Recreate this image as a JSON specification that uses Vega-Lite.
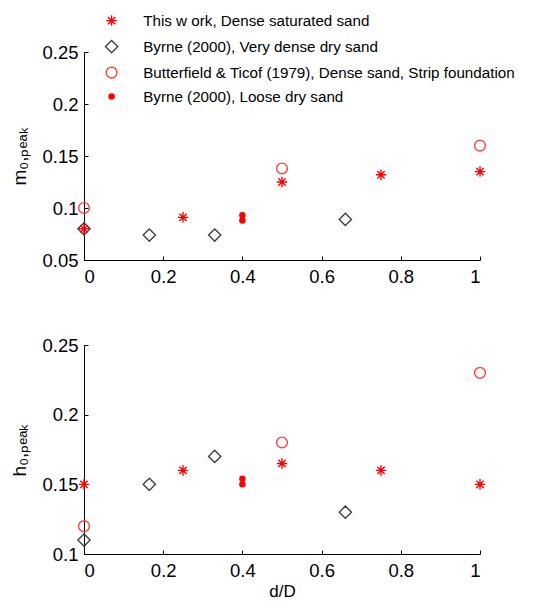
{
  "$schema": "https://vega.github.io/schema/vega-lite/v6.json",
  "background": "white",
  "padding": {"left": 10, "top": 13, "right": 5, "bottom": 0},
  "config": {
    "view": {"stroke": null},
    "font": "Liberation Sans",
    "axis": {
      "grid": false,
      "domainColor": "#000000",
      "tickColor": "#000000",
      "tickSize": -4,
      "labelColor": "#000000",
      "titleColor": "#000000",
      "labelFontSize": 18.5,
      "titleFontSize": 17,
      "titleFontWeight": "normal",
      "labelFont": "Liberation Sans",
      "titleFont": "Liberation Sans"
    }
  },
  "data": {
    "values": [
      {"series": "Byrne (2000), Very dense dry sand", "dD": 0, "m": 0.08, "h": 0.11},
      {"series": "Byrne (2000), Very dense dry sand", "dD": 0.165, "m": 0.074, "h": 0.15},
      {"series": "Byrne (2000), Very dense dry sand", "dD": 0.33, "m": 0.074, "h": 0.17},
      {"series": "Byrne (2000), Very dense dry sand", "dD": 0.66, "m": 0.089, "h": 0.13},
      {"series": "This w ork, Dense saturated sand", "dD": 0, "m": 0.08, "h": 0.15},
      {"series": "This w ork, Dense saturated sand", "dD": 0.25, "m": 0.091, "h": 0.16},
      {"series": "This w ork, Dense saturated sand", "dD": 0.5, "m": 0.125, "h": 0.165},
      {"series": "This w ork, Dense saturated sand", "dD": 0.75, "m": 0.132, "h": 0.16},
      {"series": "This w ork, Dense saturated sand", "dD": 1, "m": 0.135, "h": 0.15},
      {"series": "Butterfield & Ticof (1979), Dense sand, Strip foundation", "dD": 0, "m": 0.1, "h": 0.12},
      {"series": "Butterfield & Ticof (1979), Dense sand, Strip foundation", "dD": 0.5, "m": 0.138, "h": 0.18},
      {"series": "Butterfield & Ticof (1979), Dense sand, Strip foundation", "dD": 1, "m": 0.16, "h": 0.23},
      {"series": "Byrne (2000), Loose dry sand", "dD": 0.4, "m": 0.093, "h": 0.154},
      {"series": "Byrne (2000), Loose dry sand", "dD": 0.4, "m": 0.088, "h": 0.15}
    ]
  },
  "bounds": "flush",
  "spacing": 85,
  "resolve": {
    "scale": {"color": "independent", "shape": "independent", "size": "independent", "fill": "independent"},
    "legend": {"color": "independent", "shape": "independent", "size": "independent", "fill": "independent"}
  },
  "vconcat": [
    {
      "width": 396,
      "height": 208,
      "mark": {"type": "point", "filled": false, "strokeWidth": 1.4, "opacity": 1, "clip": false},
      "encoding": {
        "x": {
          "field": "dD", "type": "quantitative",
          "scale": {"domain": [0, 1], "nice": false, "zero": false},
          "axis": {"values": [0, 0.2, 0.4, 0.6, 0.8, 1], "format": "~g", "title": null, "labelPadding": 11}
        },
        "y": {
          "field": "m", "type": "quantitative",
          "scale": {"domain": [0.05, 0.25], "nice": false, "zero": false},
          "axis": {"values": [0.05, 0.1, 0.15, 0.2, 0.25], "format": "~g", "title": "m₀,ₚₑₐₖ", "titleFontSize": 19, "labelPadding": 10, "titlePadding": 12}
        },
        "color": {
          "field": "series", "type": "nominal",
          "scale": {
            "domain": ["This w ork, Dense saturated sand", "Byrne (2000), Very dense dry sand", "Butterfield & Ticof (1979), Dense sand, Strip foundation", "Byrne (2000), Loose dry sand"],
            "range": ["#ff0000", "#404040", "#ff4040", "#ff0000"]
          },
          "legend": {
            "orient": "none", "legendX": 20, "legendY": -39, "title": null,
            "labelFontSize": 15.2, "labelColor": "#000000", "labelFont": "Liberation Sans",
            "labelOffset": 24, "rowPadding": 8, "symbolStrokeWidth": 1.4, "labelLimit": 500
          }
        },
        "shape": {
          "field": "series", "type": "nominal",
          "scale": {
            "domain": ["This w ork, Dense saturated sand", "Byrne (2000), Very dense dry sand", "Butterfield & Ticof (1979), Dense sand, Strip foundation", "Byrne (2000), Loose dry sand"],
            "range": ["M-1,0L1,0M0,-1L0,1M-0.7,-0.7L0.7,0.7M-0.7,0.7L0.7,-0.7", "diamond", "circle", "circle"]
          },
          "legend": {
            "orient": "none", "legendX": 20, "legendY": -39, "title": null,
            "labelFontSize": 15.2, "labelColor": "#000000", "labelFont": "Liberation Sans",
            "labelOffset": 24, "rowPadding": 8, "symbolStrokeWidth": 1.4, "labelLimit": 500
          }
        },
        "size": {
          "field": "series", "type": "nominal",
          "scale": {
            "type": "ordinal",
            "domain": ["This w ork, Dense saturated sand", "Byrne (2000), Very dense dry sand", "Butterfield & Ticof (1979), Dense sand, Strip foundation", "Byrne (2000), Loose dry sand"],
            "range": [110, 150, 115, 26]
          },
          "legend": {
            "orient": "none", "legendX": 20, "legendY": -39, "title": null,
            "labelFontSize": 15.2, "labelColor": "#000000", "labelFont": "Liberation Sans",
            "labelOffset": 24, "rowPadding": 8, "symbolStrokeWidth": 1.4, "labelLimit": 500
          }
        },
        "fill": {
          "field": "series", "type": "nominal",
          "scale": {
            "domain": ["This w ork, Dense saturated sand", "Byrne (2000), Very dense dry sand", "Butterfield & Ticof (1979), Dense sand, Strip foundation", "Byrne (2000), Loose dry sand"],
            "range": ["transparent", "transparent", "transparent", "#ff0000"]
          },
          "legend": {
            "orient": "none", "legendX": 20, "legendY": -39, "title": null,
            "labelFontSize": 15.2, "labelColor": "#000000", "labelFont": "Liberation Sans",
            "labelOffset": 24, "rowPadding": 8, "symbolStrokeWidth": 1.4, "labelLimit": 500
          }
        }
      }
    },
    {
      "width": 396,
      "height": 209,
      "mark": {"type": "point", "filled": false, "strokeWidth": 1.4, "opacity": 1, "clip": false},
      "encoding": {
        "x": {
          "field": "dD", "type": "quantitative",
          "scale": {"domain": [0, 1], "nice": false, "zero": false},
          "axis": {"values": [0, 0.2, 0.4, 0.6, 0.8, 1], "format": "~g", "title": "d/D", "labelPadding": 11, "titlePadding": 4}
        },
        "y": {
          "field": "h", "type": "quantitative",
          "scale": {"domain": [0.1, 0.25], "nice": false, "zero": false},
          "axis": {"values": [0.1, 0.15, 0.2, 0.25], "format": "~g", "title": "h₀,ₚₑₐₖ", "titleFontSize": 19, "labelPadding": 10, "titlePadding": 12}
        },
        "color": {
          "field": "series", "type": "nominal",
          "scale": {
            "domain": ["This w ork, Dense saturated sand", "Byrne (2000), Very dense dry sand", "Butterfield & Ticof (1979), Dense sand, Strip foundation", "Byrne (2000), Loose dry sand"],
            "range": ["#ff0000", "#404040", "#ff4040", "#ff0000"]
          },
          "legend": null
        },
        "shape": {
          "field": "series", "type": "nominal",
          "scale": {
            "domain": ["This w ork, Dense saturated sand", "Byrne (2000), Very dense dry sand", "Butterfield & Ticof (1979), Dense sand, Strip foundation", "Byrne (2000), Loose dry sand"],
            "range": ["M-1,0L1,0M0,-1L0,1M-0.7,-0.7L0.7,0.7M-0.7,0.7L0.7,-0.7", "diamond", "circle", "circle"]
          },
          "legend": null
        },
        "size": {
          "field": "series", "type": "nominal",
          "scale": {
            "type": "ordinal",
            "domain": ["This w ork, Dense saturated sand", "Byrne (2000), Very dense dry sand", "Butterfield & Ticof (1979), Dense sand, Strip foundation", "Byrne (2000), Loose dry sand"],
            "range": [110, 150, 115, 26]
          },
          "legend": null
        },
        "fill": {
          "field": "series", "type": "nominal",
          "scale": {
            "domain": ["This w ork, Dense saturated sand", "Byrne (2000), Very dense dry sand", "Butterfield & Ticof (1979), Dense sand, Strip foundation", "Byrne (2000), Loose dry sand"],
            "range": ["transparent", "transparent", "transparent", "#ff0000"]
          },
          "legend": null
        }
      }
    }
  ]
}
